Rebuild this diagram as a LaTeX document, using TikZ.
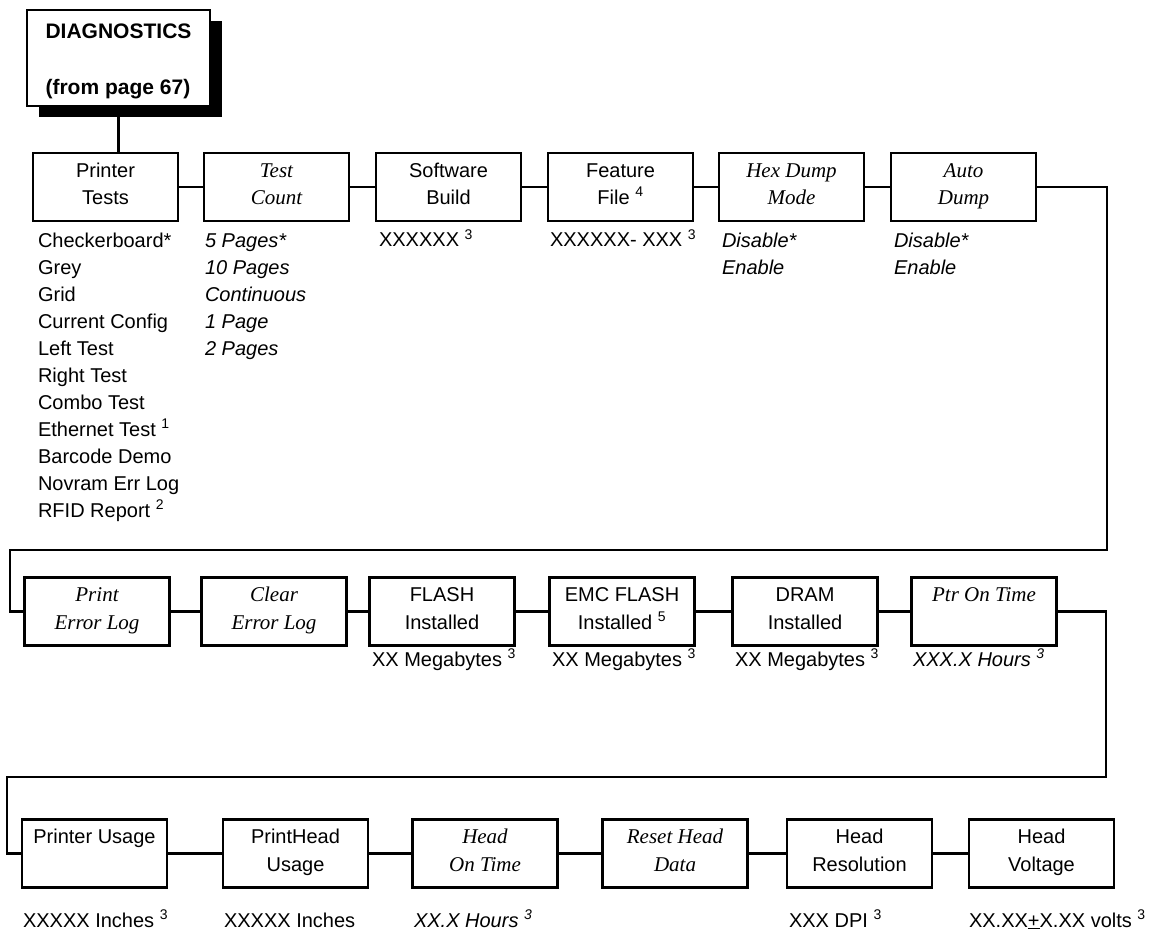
\documentclass[tikz,border=0pt]{standalone}
\usepackage{fontspec}
\setmainfont{Liberation Sans}
\newfontfamily\timesit{Liberation Serif}
\usetikzlibrary{shadows}

\begin{document}
\begin{tikzpicture}[ x=1pt, y=-1pt, line width=2.1pt,
    menu/.style={draw, minimum width=145pt, minimum height=68pt, inner sep=0pt,
      align=center, text height=45pt, text depth=10pt, font=\fontsize{20}{27.5}\selectfont},
    imenu/.style={menu, font=\fontsize{21}{27.5}\selectfont\timesit\itshape},
    opts/.style={anchor=base west, inner sep=0pt, align=left, font=\fontsize{20}{27}\selectfont},
    iopts/.style={opts, font=\fontsize{20}{27}\selectfont\itshape} ]

\useasboundingbox (0,0) rectangle (1160,931);

\node[draw, fill=white, minimum width=183pt, minimum height=96pt, inner sep=0pt, align=left,
  text height=78pt, text depth=4pt, font=\bfseries\fontsize{21}{56}\selectfont,
  drop shadow={shadow xshift=12pt, shadow yshift=-11pt, opacity=1, fill=black}]
  (diag) at (118.5,58) {DIAGNOSTICS\\(from page 67)};

\node[menu] (pt) at (105.5,187) {Printer\\Tests};
\node[imenu] (tc) at (276.5,187) {Test\\Count};
\node[menu] (sb) at (448.5,187) {Software\\Build};
\node[menu] (ff) at (620.5,187) {Feature\\File \textsuperscript{4}};
\node[imenu] (hd) at (791.5,187) {Hex Dump\\Mode};
\node[imenu] (ad) at (963.5,187) {Auto\\Dump};

% lists hang from the last line
\node[opts] (pt-o) at (37,517) {Checkerboard*\\Grey\\Grid\\Current Config\\Left Test\\Right Test\\Combo Test\\Ethernet Test \textsuperscript{1}\\Barcode Demo\\Novram Err Log\\RFID Report \textsuperscript{2}};
\node[iopts] (tc-o) at (204,355) {5 Pages*\\10 Pages\\Continuous\\1 Page\\2 Pages};
\node[opts] (sb-o) at (378,247) {XXXXXX \textsuperscript{3}};
\node[opts] (ff-o) at (549,247) {XXXXXX- XXX \textsuperscript{3}};
\node[iopts] (hd-o) at (721,274) {Disable*\\Enable};
\node[iopts] (ad-o) at (893,274) {Disable*\\Enable};

\draw (diag.south) -- (diag.south |- pt.north);
\draw (pt) -- (tc);
\draw (tc) -- (sb);
\draw (sb) -- (ff);
\draw (ff) -- (hd);
\draw (hd) -- (ad);

\node[imenu] (pe) at (97,611.5) {Print\\Error Log};
\node[imenu] (ce) at (274,611.5) {Clear\\Error Log};
\node[menu] (fi) at (442,611.5) {FLASH\\Installed};
\node[menu] (ei) at (622,611.5) {EMC FLASH\\Installed \textsuperscript{5}};
\node[menu] (di) at (805,611.5) {DRAM\\Installed};
\node[imenu] (po) at (984,611.5) {Ptr On Time\\\mbox{}};

\node[opts] (fi-o) at (371,666) {XX Megabytes \textsuperscript{3}};
\node[opts] (ei-o) at (551,666) {XX Megabytes \textsuperscript{3}};
\node[opts] (di-o) at (734,666) {XX Megabytes \textsuperscript{3}};
\node[iopts] (po-o) at (912,666) {XXX.X Hours \textsuperscript{3}};

\coordinate (turnA) at (1107,550);
\coordinate (turnB) at (10,550);
\draw (ad.east) -| (turnA) -- (turnB) |- (pe.west);
\draw (pe) -- (ce);
\draw (ce) -- (fi);
\draw (fi) -- (ei);
\draw (ei) -- (di);
\draw (di) -- (po);

\node[menu] (pu) at (94.5,853.5) {Printer Usage\\\mbox{}};
\node[menu] (ph) at (295.5,853.5) {PrintHead\\Usage};
\node[imenu] (ho) at (485,853.5) {Head\\On Time};
\node[imenu] (rh) at (675,853.5) {Reset Head\\Data};
\node[menu] (hr) at (859.5,853.5) {Head\\Resolution};
\node[menu] (hv) at (1041.5,853.5) {Head\\Voltage};

\node[opts] (pu-o) at (22,927) {XXXXX Inches \textsuperscript{3}};
\node[opts] (ph-o) at (223,927) {XXXXX Inches};
\node[iopts] (ho-o) at (413,927) {XX.X Hours \textsuperscript{3}};
\node[opts] (hr-o) at (788,927) {XXX DPI \textsuperscript{3}};
\node[opts] (hv-o) at (968,927) {XX.XX\underline{+}X.XX volts \textsuperscript{3}};

\coordinate (turnC) at (1106,777);
\coordinate (turnD) at (7,777);
\draw (po.east) -| (turnC) -- (turnD) |- (pu.west);
\draw (pu) -- (ph);
\draw (ph) -- (ho);
\draw (ho) -- (rh);
\draw (rh) -- (hr);
\draw (hr) -- (hv);

\end{tikzpicture}
\end{document}
